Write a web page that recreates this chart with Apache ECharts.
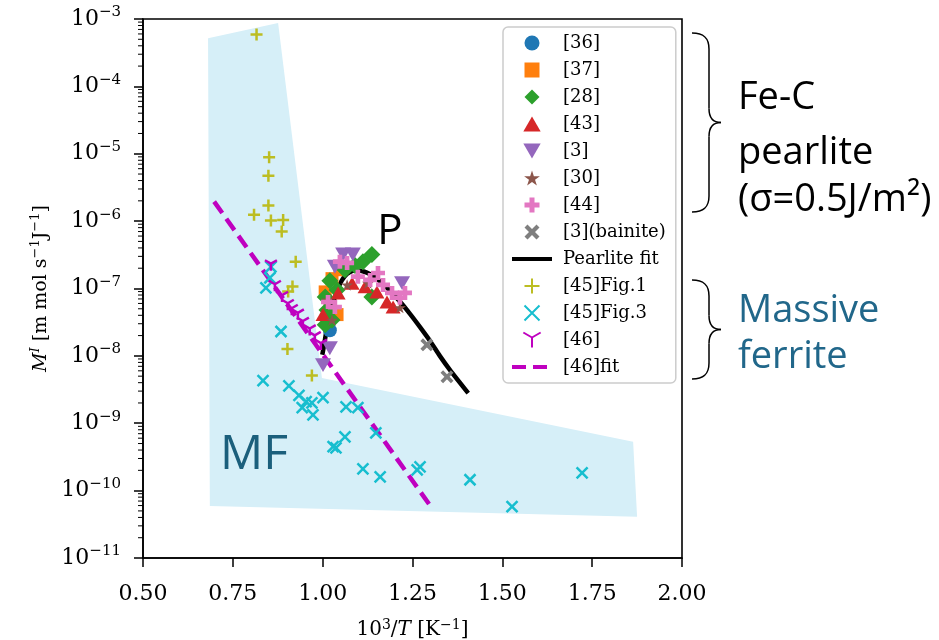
<!DOCTYPE html>
<html><head><meta charset="utf-8">
<script src="https://cdn.jsdelivr.net/npm/echarts@6/dist/echarts.min.js"></script>
<style>html,body{margin:0;padding:0;background:#fff}#c{width:939px;height:640px}</style>
</head><body><div id="c"></div>
<script>
// ---------------- data (x = 10^3/T, y = M^I) ----------------
const xTicks = [0.5, 0.75, 1.0, 1.25, 1.5, 1.75, 2.0];
const yExponents = [-11, -10, -9, -8, -7, -6, -5, -4, -3];
const mfRegion = [[0.681,5.2e-4],[0.876,8.7e-4],[0.998,4.7e-9],[1.864,5.3e-10],[1.875,4.1e-11],[0.686,5.9e-11]];
const ref36 = [[1.020,2.4e-8]];
const ref37 = [[1.026,1.4e-7],[1.007,8.9e-8],[1.040,4.1e-8],[1.048,1.9e-7]];
const ref28 = [[1.137,3.2e-7],[1.112,2.5e-7],[1.137,7.5e-8],[1.007,7.5e-8],[1.012,4.8e-8],[1.026,3.4e-8],[1.040,9.5e-8],[1.062,1.9e-7],[1.090,2.2e-7],[1.020,1.3e-7],[1.007,2.9e-8]];
const ref43 = [[1.043,8.6e-8],[1.082,1.2e-7],[1.118,1.06e-7],[1.151,8.9e-8],[1.179,6.3e-8],[1.196,5.3e-8],[1.001,4.1e-8]];
const ref3 = [[1.057,3.2e-7],[1.084,3.2e-7],[1.034,2.1e-7],[1.221,1.2e-7],[1.020,1.3e-8],[1.001,7.3e-9]];
const ref30 = [[1.068,1.13e-7],[1.126,1.2e-7],[1.215,5.2e-8],[1.026,3.4e-8],[1.012,6.8e-8]];
const ref44 = [[1.068,2.4e-7],[1.098,1.5e-7],[1.132,1.34e-7],[1.154,1.7e-7],[1.168,1.13e-7],[1.193,8.6e-8],[1.215,7.3e-8],[1.229,8.6e-8],[1.015,6.3e-8],[1.034,5.3e-8],[1.048,2.5e-7]];
const ref3bainite = [[1.290,1.46e-8],[1.346,4.9e-9]];
const pearliteFit = [[0.999,1.04e-8],[1.004,1.46e-8],[1.011,2.43e-8],[1.020,4.06e-8],[1.030,6.39e-8],[1.041,9.5e-8],[1.053,1.31e-7],[1.067,1.63e-7],[1.081,1.81e-7],[1.095,1.87e-7],[1.109,1.82e-7],[1.123,1.72e-7],[1.141,1.54e-7],[1.164,1.22e-7],[1.187,9.3e-8],[1.215,6.4e-8],[1.243,4.2e-8],[1.271,2.67e-8],[1.298,1.69e-8],[1.326,1.0e-8],[1.354,6.2e-9],[1.405,2.8e-9]];
const ref45fig1 = [[0.816,5.9e-4],[0.851,8.9e-6],[0.849,4.7e-6],[0.849,1.7e-6],[0.809,1.24e-6],[0.856,1.02e-6],[0.890,1.04e-6],[0.886,7.0e-7],[0.925,2.5e-7],[0.916,1.07e-7],[0.904,9.0e-8],[0.902,1.26e-8],[0.970,5.1e-9]];
const ref45fig3 = [[0.856,2.1e-7],[0.853,1.44e-7],[0.842,1.02e-7],[0.884,2.3e-8],[0.834,4.3e-9],[0.906,3.6e-9],[0.934,2.6e-9],[0.954,2.1e-9],[0.943,1.7e-9],[0.970,2.0e-9],[0.973,1.33e-9],[1.001,2.4e-9],[1.065,1.75e-9],[1.098,1.7e-9],[1.148,7.2e-10],[1.062,6.3e-10],[1.037,4.3e-10],[1.029,4.5e-10],[1.112,2.1e-10],[1.160,1.6e-10],[1.263,2.04e-10],[1.271,2.25e-10],[1.410,1.45e-10],[1.527,5.8e-11],[1.722,1.84e-10]];
const ref46 = [[0.856,2.2e-7],[0.867,1.09e-7],[0.887,7.5e-8],[0.903,5.7e-8],[0.914,4.8e-8],[0.931,4.1e-8],[0.945,3.1e-8],[0.964,2.4e-8],[0.978,1.9e-8],[0.995,1.46e-8]];
const fit46 = [[0.698,1.95e-6],[1.301,5.8e-11]];
const legendNames = ['[36]','[37]','[28]','[43]','[3]','[30]','[44]','[3](bainite)','Pearlite fit','[45]Fig.1','[45]Fig.3','[46]','[46]fit'];

// minor log ticks (2..9 x 10^n)
const minorTicks = [];
for (let e = -11; e < -3; e++) for (let k = 2; k <= 9; k++) minorTicks.push([0.5, k * Math.pow(10, e)]);

// ---------------- styles ----------------
const serif = 'DejaVu Serif';
const sans = 'Open Sans';
const C = {c0:'#1f77b4', c1:'#ff7f0e', c2:'#2ca02c', c3:'#d62728', c4:'#9467bd', c5:'#8c564b', c6:'#e377c2', c7:'#7f7f7f', c8:'#bcbd22', c9:'#17becf', m:'#bf00bf'};
const SYM = {
  square: 'path://M0 0L10 0L10 10L0 10Z',
  diamond: 'path://M5 0L10 5L5 10L0 5Z',
  tri: 'path://M5 0L10 8.66L0 8.66Z',
  triDown: 'path://M0 0L10 0L5 8.66Z',
  star: 'path://M10 0L12.25 6.91L19.51 6.91L13.63 11.18L15.88 18.09L10 13.82L4.12 18.09L6.37 11.18L0.49 6.91L7.75 6.91Z',
  plusF: 'path://M1 0L2 0L2 1L3 1L3 2L2 2L2 3L1 3L1 2L0 2L0 1L1 1Z',
  xF: 'path://M0 2L2 0L5 3L8 0L10 2L7 5L10 8L8 10L5 7L2 10L0 8L3 5Z',
  plus: 'path://M5 0L5 10M0 5L10 5',
  cross: 'path://M0 0L10 10M10 0L0 10',
  Y: 'path://M5 5L5 10M5 5L0.67 2.5M5 5L9.33 2.5'
};
function filled(name, data, symbol, size, color) {
  return {type:'scatter', name, data, symbol, symbolSize:size, symbolKeepAspect:true,
    itemStyle:{color, opacity:1}, emphasis:{disabled:true}, z:3};
}
function stroked(name, data, symbol, size, color, w) {
  return {type:'scatter', name, data, symbol, symbolSize:size, symbolKeepAspect:true,
    itemStyle:{color, borderColor:color, borderWidth:w, opacity:1}, emphasis:{disabled:true}, z:3};
}
// curly brace drawn as curve pieces
function brace(yTop, yBot) {
  const ym = (yTop + yBot) / 2, xe = 692, xb = 709, xt = 721;
  const st = {fill:'none', stroke:'#000', lineWidth:1.5};
  return [
    {type:'bezierCurve', shape:{x1:xe,y1:yTop,cpx1:xe+12,cpy1:yTop,cpx2:xb,cpy2:yTop+5,x2:xb,y2:yTop+16}, style:st},
    {type:'line', shape:{x1:xb,y1:yTop+16,x2:xb,y2:ym-14}, style:st},
    {type:'bezierCurve', shape:{x1:xb,y1:ym-14,cpx1:xb,cpy1:ym-5,cpx2:xb+4,cpy2:ym,x2:xt,y2:ym}, style:st},
    {type:'bezierCurve', shape:{x1:xt,y1:ym,cpx1:xb+4,cpy1:ym,cpx2:xb,cpy2:ym+5,x2:xb,y2:ym+14}, style:st},
    {type:'line', shape:{x1:xb,y1:ym+14,x2:xb,y2:yBot-16}, style:st},
    {type:'bezierCurve', shape:{x1:xb,y1:yBot-16,cpx1:xb,cpy1:yBot-5,cpx2:xe+12,cpy2:yBot,x2:xe,y2:yBot}, style:st}
  ];
}
const legendData = legendNames.map(n => (n === 'Pearlite fit' || n === '[46]fit')
  ? {name:n, itemStyle:{opacity:0}, lineStyle:{width:4}}
  : {name:n});

const chart = echarts.init(document.getElementById('c'));
const option = {
  animation: false,
  backgroundColor: '#fff',
  grid: {left:143, right:257, top:19, bottom:82, containLabel:false, outerBoundsMode:'none',
    show:true, borderColor:'#000', borderWidth:1.6, backgroundColor:'transparent'},
  xAxis: {
    type:'value', min:0.5, max:2.0, interval:0.25,
    axisLine:{show:true, lineStyle:{color:'#000', width:1.6}},
    axisTick:{show:true, length:9, lineStyle:{color:'#000', width:1.5}},
    splitLine:{show:false},
    axisLabel:{margin:25, color:'#000', fontFamily:serif, fontSize:22, formatter:v=>v.toFixed(2)},
    name:'{a|10}{s|3}{a|/}{i|T}{a| [K}{s|−1}{a|]}', nameLocation:'middle', nameGap:60,
    nameTextStyle:{rich:{
      a:{fontFamily:serif, fontSize:20, lineHeight:24, color:'#000'},
      i:{fontFamily:serif, fontSize:20, lineHeight:24, fontStyle:'italic', color:'#000'},
      s:{fontFamily:serif, fontSize:14, lineHeight:14, verticalAlign:'top', color:'#000'}
    }}
  },
  yAxis: {
    type:'log', logBase:10, min:1e-11, max:1e-3, interval:1,
    axisLine:{show:true, lineStyle:{color:'#000', width:1.6}},
    axisTick:{show:true, length:9, lineStyle:{color:'#000', width:1.5}},
    splitLine:{show:false}, minorTick:{show:false},
    axisLabel:{margin:22, formatter:v=>{const e=Math.round(Math.log10(v)); return '{a|10}{s|−'+(-e)+'}';},
      rich:{
        a:{fontFamily:serif, fontSize:22, lineHeight:28, color:'#000'},
        s:{fontFamily:serif, fontSize:15, lineHeight:15, verticalAlign:'top', color:'#000'}
      }},
    name:'{i|M}{si|I}{a| [m mol s}{s|−1}{a|J}{s|−1}{a|]}', nameLocation:'middle', nameGap:88, nameRotate:90,
    nameTextStyle:{rich:{
      a:{fontFamily:serif, fontSize:19, lineHeight:24, color:'#000'},
      i:{fontFamily:serif, fontSize:19, lineHeight:24, fontStyle:'italic', color:'#000'},
      s:{fontFamily:serif, fontSize:13, lineHeight:13, verticalAlign:'top', color:'#000'},
      si:{fontFamily:serif, fontSize:13, lineHeight:13, verticalAlign:'top', fontStyle:'italic', color:'#000'}
    }}
  },
  legend: {
    orient:'vertical', left:503, top:27, itemWidth:40, itemHeight:15, itemGap:9,
    padding:[7,10,7,7], backgroundColor:'#fff', borderColor:'#cccccc', borderWidth:1.5, borderRadius:5,
    textStyle:{fontFamily:serif, fontSize:18, lineHeight:16, color:'#000', padding:[0,0,0,6]},
    data: legendData, selectedMode:false, z:10
  },
  series: [
    {type:'custom', name:'MF region', silent:true, z:1, data:mfRegion,
      renderItem:(params, api)=> params.dataIndex===0 ? {type:'polygon', shape:{points:mfRegion.map(p=>api.coord(p))}, style:{fill:'#d6eff8'}} : null},
    {type:'custom', name:'minor ticks', silent:true, z:5, data:minorTicks,
      renderItem:(params, api)=>{const p=api.coord([api.value(0), api.value(1)]); return {type:'line', shape:{x1:p[0]-5, y1:p[1], x2:p[0], y2:p[1]}, style:{stroke:'#000', lineWidth:1}};}},
    filled('[36]', ref36, 'circle', 14, C.c0),
    filled('[37]', ref37, SYM.square, 13, C.c1),
    filled('[28]', ref28, SYM.diamond, 17, C.c2),
    filled('[43]', ref43, SYM.tri, 15, C.c3),
    filled('[3]', ref3, SYM.triDown, 16, C.c4),
    filled('[30]', ref30, SYM.star, 12, C.c5),
    filled('[44]', ref44, SYM.plusF, 14, C.c6),
    filled('[3](bainite)', ref3bainite, SYM.xF, 13, C.c7),
    {type:'line', name:'Pearlite fit', data:pearliteFit, symbol:'none', smooth:0.25,
      lineStyle:{color:'#000', width:4.5}, itemStyle:{color:'#000'}, emphasis:{disabled:true}, z:3},
    stroked('[45]Fig.1', ref45fig1, SYM.plus, 12, C.c8, 2.5),
    stroked('[45]Fig.3', ref45fig3, SYM.cross, 11, C.c9, 2.5),
    stroked('[46]', ref46, SYM.Y, 12, C.m, 2.5),
    {type:'line', name:'[46]fit', data:fit46, symbol:'none',
      lineStyle:{color:C.m, width:4.5, type:[14,7]}, itemStyle:{color:C.m}, emphasis:{disabled:true}, z:3}
  ],
  graphic: [].concat(brace(33, 212), brace(280, 379), [
    {type:'text', x:738, y:98, style:{text:'Fe-C', fontFamily:sans, fontSize:38, fill:'#000', align:'left', verticalAlign:'middle'}},
    {type:'text', x:738, y:153, style:{text:'pearlite', fontFamily:sans, fontSize:38, fill:'#000', align:'left', verticalAlign:'middle'}},
    {type:'text', x:738, y:200, style:{text:'(σ=0.5J/m²)', fontFamily:sans, fontSize:38, fill:'#000', align:'left', verticalAlign:'middle'}},
    {type:'text', x:738, y:311, style:{text:'Massive', fontFamily:sans, fontSize:38, fill:'#21678a', align:'left', verticalAlign:'middle'}},
    {type:'text', x:738, y:357, style:{text:'ferrite', fontFamily:sans, fontSize:38, fill:'#21678a', align:'left', verticalAlign:'middle'}},
    {type:'text', x:254, y:455, z:2, style:{text:'MF', fontFamily:sans, fontSize:48, fill:'#1b5f7c', align:'center', verticalAlign:'middle'}},
    {type:'text', x:390, y:232, style:{text:'P', fontFamily:sans, fontSize:42, fill:'#000', align:'center', verticalAlign:'middle'}}
  ])
};
chart.setOption(option);
</script>
</body></html>
